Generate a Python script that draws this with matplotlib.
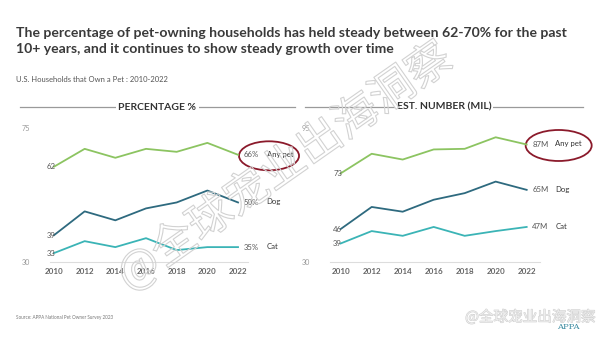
import numpy as np
import matplotlib.pyplot as plt
import matplotlib.transforms as mtransforms
import matplotlib.patheffects as pe
from matplotlib.patches import Ellipse

plt.rcParams['font.family'] = ['Lato', 'DejaVu Sans']

# U.S. households that own a pet, APPA survey
years = [2010, 2012, 2014, 2016, 2018, 2020, 2022]
pct_any = [62, 68, 65, 68, 67, 70, 66]
pct_dog = [39, 47, 44, 48, 50, 54, 50]
pct_cat = [33, 37, 35, 38, 34, 35, 35]
num_any = [73, 82.5, 79.7, 84.6, 84.9, 90.5, 87]
num_dog = [46, 56.7, 54.4, 60.2, 63.4, 69, 65]
num_cat = [39, 45, 42.7, 47, 42.7, 45, 47]
series_names = ['Any pet', 'Dog', 'Cat']
colors = ['#8cc461', '#2e6a7f', '#3bb4b6']

W, H = 600, 337
fig = plt.figure(figsize=(W / 100, H / 100), dpi=100)
fig.patch.set_facecolor('white')


def px(x, y):
    return x / W, 1 - y / H


fig.text(*px(16, 41), 'The percentage of pet-owning households has held steady between 62-70% for the past\n'
         '10+ years, and it continues to show steady growth over time',
         fontsize=10.1, fontweight='bold', color='#3a3a3a', va='center', linespacing=1.4)
fig.text(*px(16, 80), 'U.S. Households that Own a Pet : 2010-2022', fontsize=5.5, color='#555555', va='center')
fig.text(*px(16, 318), 'Source: APPA National Pet Owner Survey 2023', fontsize=3.3, color='#777777', va='center')


def header(x0, x1, label):
    y = 1 - 107 / H
    fig.add_artist(plt.Line2D([x0 / W, x1 / W], [y, y], color='#9a9a9a', lw=0.9))
    fig.text((x0 + x1) / 2 / W, y, label, fontsize=7.5, fontweight='bold', color='#333333',
             ha='center', va='center', bbox=dict(facecolor='white', edgecolor='none', pad=1.5))


header(20, 295, 'PERCENTAGE %')
header(305, 583, 'EST. NUMBER (MIL)')


def panel(left, right, xlim, ylim, data, suffix, ell_w, ell_h, ell_dx):
    ax = fig.add_axes([left / W, 1 - 262 / H, (right - left) / W, 134 / H])
    ax.set_xlim(*xlim)
    ax.set_ylim(*ylim)
    for s in ['top', 'right', 'left']:
        ax.spines[s].set_visible(False)
    ax.spines['bottom'].set_color('#dddddd')
    ax.spines['bottom'].set_linewidth(0.8)
    ax.set_xticks(years)
    ax.set_xticklabels([str(y) for y in years], fontsize=5.8, fontweight='bold', color='#666666')
    ax.set_yticks(list(ylim))
    ax.set_yticklabels([str(v) for v in ylim], fontsize=5.2, color='#9a9a9a')
    ax.tick_params(axis='x', length=0, pad=4)
    ax.tick_params(axis='y', length=0, pad=14)
    ax.patch.set_alpha(0)

    for vals, name, c in zip(data, series_names, colors):
        ax.plot(years, vals, color=c, lw=1.3, clip_on=False)
        ax.annotate(f'{vals[0]:g}', (years[0], vals[0]), xytext=(1, 0), textcoords='offset points',
                    ha='right', va='center', fontsize=5.6, color='#555555')
        ax.annotate(f'{vals[-1]:g}{suffix}', (years[-1], vals[-1]), xytext=(4, 0),
                    textcoords='offset points', ha='left', va='center', fontsize=5.6, color='#555555')
        ax.annotate(name, (years[-1], vals[-1]), xytext=(20.5, 0.5), textcoords='offset points',
                    ha='left', va='center', fontsize=5.6, color='#333333')

    # circle the "Any pet" end label
    anchor = mtransforms.ScaledTranslation(years[-1], data[0][-1], ax.transData)
    ell = Ellipse((ell_dx, -1), ell_w, ell_h, transform=anchor, facecolor='none',
                  edgecolor='#8b1a2b', lw=1.3, clip_on=False)
    ax.add_artist(ell)
    return ax


panel(50, 248, (2009.74, 2022.65), (30, 75), [pct_any, pct_dog, pct_cat], '%', 60, 29, 31)
panel(330, 540, (2009.31, 2022.86), (30, 95), [num_any, num_dog, num_cat], 'M', 66, 31, 32)

# account watermarks, drawn as faint outlines
wm = '@全球宠业出海洞察'
cjk = ['Noto Sans CJK SC', 'DejaVu Sans']
fig.text(*px(285, 167), wm, fontsize=32, color='none', rotation=35,
         ha='center', va='center', family=cjk, fontweight='light',
         path_effects=[pe.withStroke(linewidth=0.8, foreground='#d2d2d2')])
fig.text(*px(596, 317), wm, fontsize=10.5, color='#ededed', ha='right', va='center', family=cjk,
         path_effects=[pe.withStroke(linewidth=0.7, foreground='#cfcfcf')])
fig.text(*px(568, 327), 'APPA', fontsize=6, color='#3a8aa0', ha='center', va='center', family='DejaVu Serif')

fig.savefig('out.png', dpi=100, facecolor='white')
